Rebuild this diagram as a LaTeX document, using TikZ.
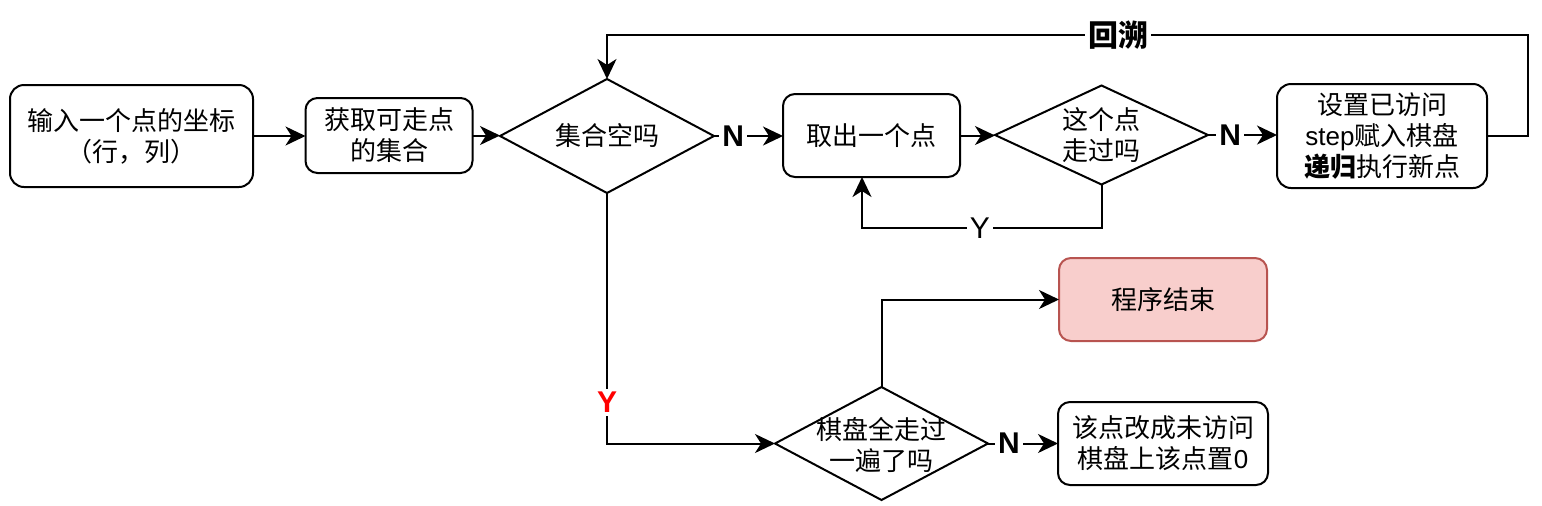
\documentclass[tikz,border=0pt]{standalone}
\usepackage{fontspec}
\setmainfont{Noto Sans CJK SC}
\newfontfamily\lat{Liberation Sans}
\usetikzlibrary{shapes.geometric,arrows.meta}
\definecolor{endfill}{HTML}{F8CECC}
\definecolor{enddraw}{HTML}{B85450}
\begin{document}
\begin{tikzpicture}[x=0.5pt,y=-0.5pt,
  box/.style={draw,line width=1pt,rounded corners=7pt,align=center,inner sep=0pt,outer sep=0pt,font=\fontsize{13}{15.5}\selectfont},
  dia/.style={draw,line width=1pt,diamond,inner sep=0pt,outer sep=0pt},
  dtext/.style={align=center,inner sep=0pt,font=\fontsize{13}{15.5}\selectfont},
  conn/.style={line width=1pt,-{Stealth[length=10pt,width=9.5pt,inset=3pt]}},
  lbl/.style={fill=white,inner sep=1.5pt,font=\lat\bfseries\fontsize{15}{18}\selectfont},
  lblc/.style={fill=white,inner sep=1.5pt,font=\bfseries\fontsize{15}{18}\selectfont},
  lbly/.style={fill=white,inner sep=1.5pt,font=\lat\fontsize{15}{18}\selectfont},
]
\useasboundingbox (0,0) rectangle (1542,505);
\node[box,minimum width=121.5pt,minimum height=51pt] (b1) at (131.5,136) {输入一个点的坐标\\（行，列）};
\node[box,rounded corners=6pt,minimum width=83.5pt,minimum height=37.5pt] (b2) at (389,135.5) {获取可走点\\的集合};
\node[dia,minimum width=107pt,minimum height=57pt] (d1) at (607,136) {};
\node[dtext] (t1) at (d1) {集合空吗};
\node[box,rounded corners=6pt,minimum width=88.5pt,minimum height=41.5pt] (b3) at (871.5,135.5) {取出一个点};
\node[dia,minimum width=106.5pt,minimum height=49.5pt] (d2) at (1101.5,135) {};
\node[dtext] (t2) at (d2) {这个点\\走过吗};
\node[box,minimum width=105pt,minimum height=52pt] (b4) at (1382,136) {设置已访问\\{\lat step}赋入棋盘\\\textbf{递归}执行新点};
\node[box,rounded corners=6pt,fill=endfill,draw=enddraw,minimum width=104pt,minimum height=41.5pt] (end) at (1163,299.5) {程序结束};
\node[dia,minimum width=106.5pt,minimum height=56.5pt] (d3) at (881.5,443.5) {};
\node[dtext] (t3) at (881.5,445) {棋盘全走过\\一遍了吗};
\node[box,rounded corners=6pt,minimum width=105pt,minimum height=41.5pt] (b5) at (1163,443.5) {该点改成未访问\\棋盘上该点置{\lat 0}};
\coordinate (rt) at (1528,35);
\coordinate (yl) at (862,228);
\draw[conn] (b1.east) -- (b1.east -| b2.west);
\draw[conn] (b2.east) -- (b2.east -| d1.west);
\draw[conn] (d1.east) -- node[lbl,pos=0.28]{N} (d1.east -| b3.west);
\draw[conn] (b3.east) -- (b3.east -| d2.west);
\draw[conn] (d2.east) -- node[lbl,pos=0.32]{N} (d2.east -| b4.west);
\draw[conn] (b4.east) -| (rt) -- node[lblc,pos=0.445]{回溯} (rt -| d1.north) -- (d1.north);
\draw[conn] (d2.south) |- node[lbly,pos=0.754]{Y} (yl) -- (yl |- b3.south);
\draw[conn] (d1.south) |- node[lbl,text=red,pos=0.418]{Y} (d3.west);
\draw[conn] (d3.north) |- (end.west);
\draw[conn] (d3.east) -- node[lbl,pos=0.3]{N} (d3.east -| b5.west);
\end{tikzpicture}
\end{document}
